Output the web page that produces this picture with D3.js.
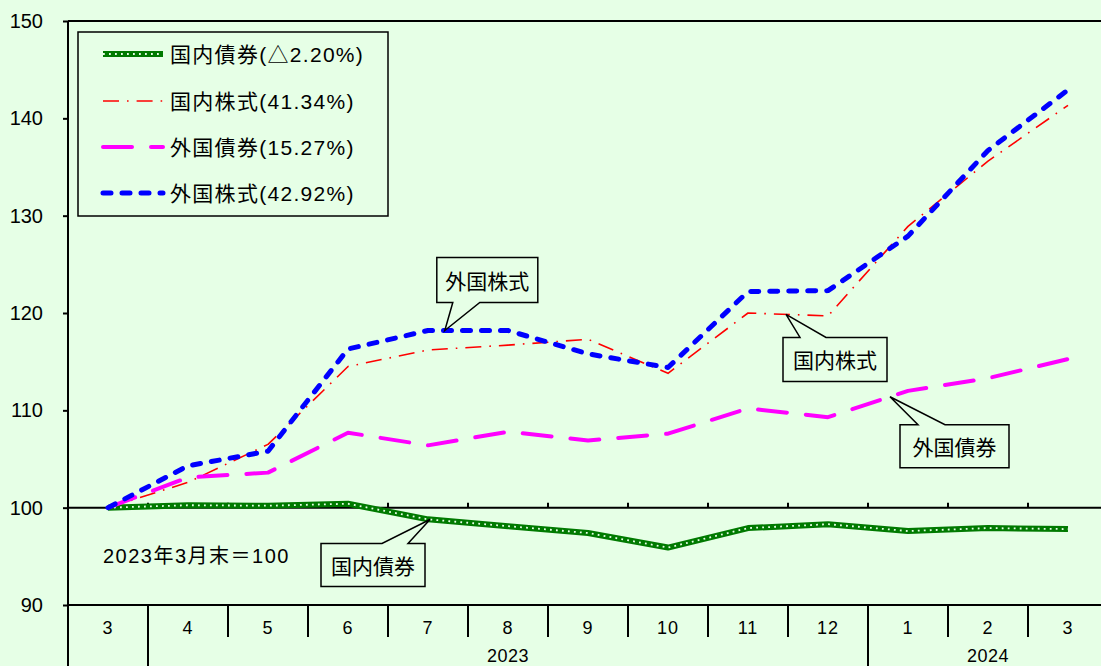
<!DOCTYPE html>
<html>
<head>
<meta charset="utf-8">
<script src="https://cdn.jsdelivr.net/npm/d3@7"></script>
<style>
  body { margin: 0; background: #e6ffe6; }
  svg { display: block; }
  text { font-family: "Liberation Sans", "Noto Sans CJK JP", sans-serif; fill: #000; }
</style>
</head>
<body>
<svg id="chart" width="1101" height="666"></svg>
<script>
// Month labels (2023年3月 … 2024年3月)
const months = ["3", "4", "5", "6", "7", "8", "9", "10", "11", "12", "1", "2", "3"];
// Year row: label and the month indices it spans
const yearGroups = [
  { label: "2023", from: 1, to: 9 },
  { label: "2024", from: 10, to: 12 }
];
// Index values (2023年3月末 = 100)
const domesticBonds   = [100, 100.25, 100.2, 100.4, 98.8, 98.1, 97.4, 95.9, 97.9, 98.3, 97.6, 97.9, 97.8];
const domesticStocks  = [100, 102.6, 106.5, 114.5, 116.2, 116.7, 117.3, 113.8, 120.0, 119.7, 128.9, 135.6, 141.34];
const foreignBonds    = [100, 103.1, 103.6, 107.7, 106.4, 107.8, 106.9, 107.6, 110.2, 109.3, 112.0, 113.3, 115.27];
const foreignStocks   = [100, 104.3, 105.8, 116.3, 118.2, 118.2, 115.8, 114.4, 122.2, 122.3, 127.9, 136.7, 142.92];
const seriesNames  = ["国内債券", "国内株式", "外国債券", "外国株式"];
const legendLabels = ["国内債券(△2.20%)", "国内株式(41.34%)", "外国債券(15.27%)", "外国株式(42.92%)"];
const yTicks = [90, 100, 110, 120, 130, 140, 150];
const baseNote = "2023年3月末＝100";

const series = [domesticBonds, domesticStocks, foreignBonds, foreignStocks];

// Line styles per series
const styles = [
  { color: "#007a00", width: 6, dash: null, bond: true },
  { color: "#ff0000", width: 1.6, dash: "16,8,1.6,8", cap: "butt" },
  { color: "#ff00ff", width: 4, dash: "29,19", cap: "round" },
  { color: "#0000ff", width: 5, dash: "8,11", cap: "round" }
];

// Callout balloons: which series, position along months, box offset from the tip
const callouts = [
  { series: 3, at: 4.21,  dx: -8,   dy: -73, w: 101, h: 45, side: "bottom", b1: 16, b2: 43 },
  { series: 1, at: 8.475, dx: -3,   dy: 23,  w: 104, h: 44, side: "top",    b1: 17, b2: 43 },
  { series: 2, at: 9.775, dx: 10,   dy: 28,  w: 109, h: 43, side: "top",    b1: 18, b2: 45 },
  { series: 0, at: 4.025, dx: -109, dy: 24,  w: 104, h: 43, side: "top",    b1: 61, b2: 87 }
];

const svg = d3.select("#chart");
const W = 1101, H = 666;
const bg = "#e6ffe6";
svg.append("rect").attr("width", W).attr("height", H).attr("fill", bg);

const plotLeft = 68, plotTop = 21, plotBottom = 605, colW = 80;
const x = d3.scaleBand().domain(d3.range(months.length)).range([plotLeft, plotLeft + colW * months.length]).padding(0);
const cx = i => x(i) + x.bandwidth() / 2;
const y = d3.scaleLinear().domain([90, 150]).range([plotBottom, plotTop]);

// Position along a series at a fractional month index
function valueAt(arr, t) {
  const i = Math.floor(t), f = t - i;
  return arr[i] + (arr[Math.min(i + 1, arr.length - 1)] - arr[i]) * f;
}
const xAt = t => cx(0) + t * colW;

// Frame
const ink = "#000";
svg.append("line").attr("x1", plotLeft).attr("x2", W).attr("y1", plotTop).attr("y2", plotTop).attr("stroke", ink).attr("stroke-width", 2);
svg.append("line").attr("x1", plotLeft).attr("x2", plotLeft).attr("y1", plotTop).attr("y2", H).attr("stroke", ink).attr("stroke-width", 2);
svg.append("line").attr("x1", plotLeft).attr("x2", W).attr("y1", plotBottom).attr("y2", plotBottom).attr("stroke", ink).attr("stroke-width", 2);

// Y axis
const yAxis = d3.axisLeft(y).tickValues(yTicks).tickSize(5).tickFormat(d3.format("d"));
const yg = svg.append("g").attr("transform", `translate(${plotLeft},0)`).call(yAxis);
yg.select(".domain").remove();
yg.selectAll(".tick line").attr("stroke", ink).attr("stroke-width", 2);
yg.selectAll(".tick text").attr("x", -25).attr("font-size", 20).attr("font-family", "Liberation Sans, sans-serif").attr("fill", ink);

// Baseline at 100 with column ticks
svg.append("line").attr("x1", plotLeft).attr("x2", W).attr("y1", y(100)).attr("y2", y(100)).attr("stroke", ink).attr("stroke-width", 2);
svg.selectAll(".btick").data(d3.range(1, months.length)).join("line")
  .attr("x1", i => x(i)).attr("x2", i => x(i))
  .attr("y1", y(100)).attr("y2", y(100) - 5)
  .attr("stroke", ink).attr("stroke-width", 2);

// Category table under the plot
const monthRowBottom = 637;
const yearBreaks = new Set(yearGroups.map(g => g.from));
svg.selectAll(".sep").data(d3.range(1, months.length)).join("line")
  .attr("x1", i => x(i)).attr("x2", i => x(i))
  .attr("y1", plotBottom).attr("y2", i => yearBreaks.has(i) ? H : monthRowBottom)
  .attr("stroke", ink).attr("stroke-width", 2);
svg.selectAll(".mlab").data(months).join("text")
  .attr("x", (d, i) => cx(i)).attr("y", 628)
  .attr("text-anchor", "middle").attr("dominant-baseline", "central")
  .attr("font-size", 18).attr("letter-spacing", 1).text(d => d);
svg.selectAll(".ylab").data(yearGroups).join("text")
  .attr("x", g => (x(g.from) + x(g.to) + x.bandwidth()) / 2).attr("y", 656)
  .attr("text-anchor", "middle").attr("dominant-baseline", "central")
  .attr("font-size", 18).attr("letter-spacing", 0.5).text(g => g.label);

// Series lines
const line = d3.line().x((d, i) => cx(i)).y(d => y(d));
const plot = svg.append("g");
function drawStyled(g, pathD, st) {
  const p = g.append("path").attr("d", pathD).attr("fill", "none")
    .attr("stroke", st.color).attr("stroke-width", st.width)
    .attr("stroke-linejoin", "round").attr("stroke-linecap", st.cap || "butt");
  if (st.dash) p.attr("stroke-dasharray", st.dash);
  if (st.bond) {
    g.append("path").attr("d", pathD).attr("fill", "none")
      .attr("stroke", "#e8ffe8").attr("stroke-width", 1.8)
      .attr("stroke-dasharray", "1.8,4.2");
  }
}
series.forEach((arr, k) => drawStyled(plot, line(arr), styles[k]));

// Base note
svg.append("text").attr("x", 103).attr("y", 556).attr("dominant-baseline", "central")
  .attr("font-size", 20).attr("letter-spacing", 1.5).text(baseNote);

// Legend
const lg = svg.append("g");
lg.append("rect").attr("x", 78).attr("y", 32).attr("width", 310).attr("height", 184)
  .attr("fill", bg).attr("stroke", ink).attr("stroke-width", 1.5);
const legendY = [54, 101, 147, 193];
legendLabels.forEach((lab, k) => {
  const ly = legendY[k];
  drawStyled(lg, `M103,${ly}H163`, styles[k]);
  lg.append("text").attr("x", 170).attr("y", ly).attr("dominant-baseline", "central")
    .attr("font-size", 21).attr("letter-spacing", 1.3).text(lab);
});

// Callout balloons
const cg = svg.append("g");
callouts.forEach(c => {
  const tx = xAt(c.at), ty = y(valueAt(series[c.series], c.at));
  const bx = tx + c.dx, by = ty + c.dy, bw = c.w, bh = c.h;
  let d;
  if (c.side === "top") {
    d = `M${bx},${by}H${bx + c.b1}L${tx},${ty}L${bx + c.b2},${by}H${bx + bw}V${by + bh}H${bx}Z`;
  } else {
    d = `M${bx},${by}H${bx + bw}V${by + bh}H${bx + c.b2}L${tx},${ty}L${bx + c.b1},${by + bh}H${bx}Z`;
  }
  cg.append("path").attr("d", d).attr("fill", bg).attr("stroke", ink).attr("stroke-width", 1.5);
  cg.append("text").attr("x", bx + bw / 2).attr("y", by + bh / 2 + 1)
    .attr("text-anchor", "middle").attr("dominant-baseline", "central")
    .attr("font-size", 21).text(seriesNames[c.series]);
});
</script>
</body>
</html>
